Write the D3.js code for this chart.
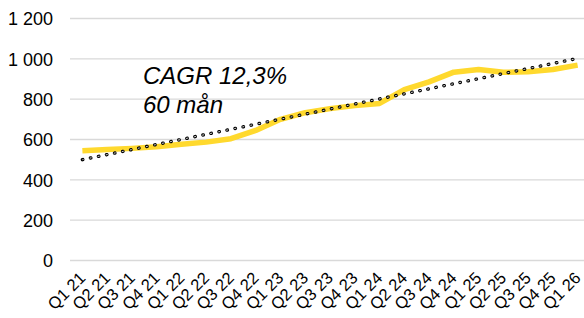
<!DOCTYPE html>
<html><head><meta charset="utf-8">
<script src="https://cdn.jsdelivr.net/npm/d3@7"></script>
<style>
html,body{margin:0;padding:0;background:#fff;}
svg{display:block;font-family:"Liberation Sans",Arial,sans-serif;}
</style></head>
<body>
<svg id="c" width="584" height="318"></svg>
<script>
const categories = ["Q1 21","Q2 21","Q3 21","Q4 21","Q1 22","Q2 22","Q3 22","Q4 22","Q1 23","Q2 23","Q3 23","Q4 23","Q1 24","Q2 24","Q3 24","Q4 24","Q1 25","Q2 25","Q3 25","Q4 25","Q1 26"];
const values = [544,550,556,564,576,587,604,645,700,733,753,768,779,847,886,934,947,933,936,947,969];
const trendStartEnd = [500,1002];
const yTicks = [0,200,400,600,800,1000,1200];
const annotation = ["CAGR 12,3%","60 mån"];

const svg = d3.select("#c");
const x = d3.scaleBand().domain(categories).range([70,590]);
const cx = d => x(d) + x.bandwidth()/2;
const y = d3.scaleLinear().domain([0,1200]).range([260.5,18.5]);
const fmt = v => d3.format(",")(v).replace(/,/g," ");

// gridlines
svg.append("g").selectAll("line").data(yTicks).join("line")
  .attr("x1",70).attr("x2",584)
  .attr("y1",d=>y(d)).attr("y2",d=>y(d))
  .attr("stroke","#d9d9d9").attr("stroke-width",1.3);

// y axis labels
const yAxis = d3.axisLeft(y).tickValues(yTicks).tickFormat(fmt).tickSize(0).tickPadding(0);
const gy = svg.append("g").attr("transform","translate(53,0)").call(yAxis);
gy.select(".domain").remove();
gy.selectAll("text").attr("font-size",18).attr("fill","#000")
  .attr("font-family","Liberation Sans, Arial, sans-serif").attr("dy","0.35em");

// x axis labels
const xAxis = d3.axisBottom(x).tickSize(0).tickPadding(0);
const gx = svg.append("g").call(xAxis);
gx.select(".domain").remove();
gx.selectAll(".tick").attr("transform", d => `translate(${cx(d)+4},279)`);
gx.selectAll("text").attr("font-size",16.5).attr("fill","#000")
  .attr("font-family","Liberation Sans, Arial, sans-serif")
  .attr("y",0).attr("dy",0).attr("x",0)
  .attr("text-anchor","end").attr("transform","rotate(-45)");

// yellow line
const line = d3.line().x((d,i)=>cx(categories[i])).y(d=>y(d));
svg.append("path").datum(values).attr("d",line)
  .attr("fill","none").attr("stroke","#FFD92E").attr("stroke-width",5.5)
  .attr("stroke-linejoin","round");

// trendline
const tr = [{c:categories[0],v:trendStartEnd[0]},{c:categories[categories.length-1],v:trendStartEnd[1]}];
const tline = d3.line().x(d=>cx(d.c)).y(d=>y(d.v));
svg.append("path").datum(tr).attr("d",tline)
  .attr("fill","none").attr("stroke","#000").attr("stroke-width",3.4)
  .attr("stroke-dasharray","0.4,7.8").attr("stroke-linecap","round");
svg.append("path").datum(tr).attr("d",tline)
  .attr("fill","none").attr("stroke","#fff").attr("stroke-width",0.8)
  .attr("stroke-dasharray","2,6.2").attr("stroke-dashoffset",0.8);

// annotation
svg.append("text").attr("x",143).attr("y",84)
  .attr("font-size",24).attr("font-style","italic").attr("fill","#000")
  .selectAll("tspan").data(annotation).join("tspan")
  .attr("x",143).attr("dy",(d,i)=>i?28.5:0).text(d=>d);
</script>
</body></html>
